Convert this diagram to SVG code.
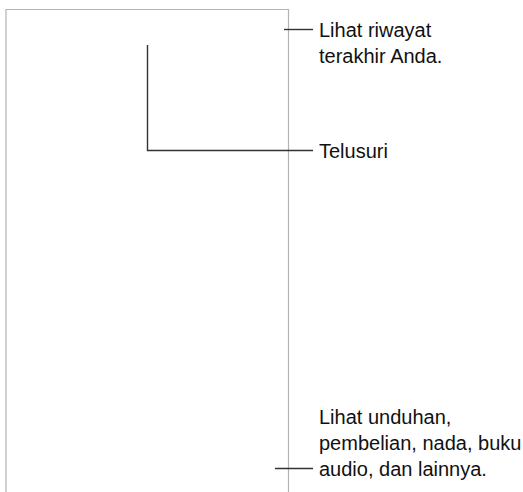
<svg xmlns="http://www.w3.org/2000/svg" width="523" height="492" viewBox="0 0 523 492">
<style>
.frame{fill:none;stroke:#b3b3b3;stroke-width:1.2}
.lead{fill:none;stroke:#333;stroke-width:1.4}
text{font-family:"Liberation Sans",Arial,sans-serif;font-size:20px;fill:#111}
</style>
<rect width="523" height="492" fill="#fff"/>
<g id="screen"><path class="frame" d="M6,492 V9.5 H288.5 V492"/></g>
<g id="connectors">
<path class="lead" d="M284,29.5 H313"/>
<path class="lead" d="M147.5,45 V150.5 H313"/>
<path class="lead" d="M275,468.5 H313"/>
</g>
<g id="label-history"><text x="319" y="37">Lihat riwayat</text><text x="319" y="63">terakhir Anda.</text></g>
<g id="label-search"><text x="319" y="158">Telusuri</text></g>
<g id="label-downloads"><text x="319" y="424">Lihat unduhan,</text><text x="319" y="450">pembelian, nada, buku</text><text x="319" y="476">audio, dan lainnya.</text></g>
</svg>
